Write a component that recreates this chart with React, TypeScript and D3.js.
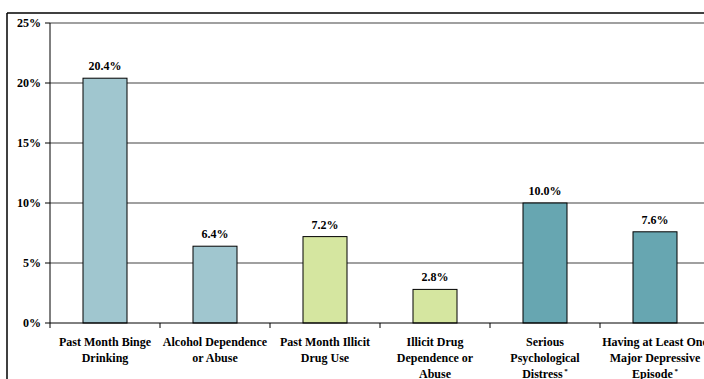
import React from "react";
import * as d3 from "d3";

const categories = [
  ["Past Month Binge", "Drinking"],
  ["Alcohol Dependence", "or Abuse"],
  ["Past Month Illicit", "Drug Use"],
  ["Illicit Drug", "Dependence or", "Abuse"],
  ["Serious", "Psychological", "Distress *"],
  ["Having at Least One", "Major Depressive", "Episode *"],
];
const values = [20.4, 6.4, 7.2, 2.8, 10.0, 7.6];
const colors = ["#A0C6CF", "#A0C6CF", "#D5E6A0", "#D5E6A0", "#67A6B1", "#67A6B1"];
const yTicks = [0, 5, 10, 15, 20, 25];

export default function App() {
  const W = 704, H = 379;
  const left = 50, right = 710, top = 23, bottom = 323;
  const x = d3.scaleBand<number>().domain(d3.range(categories.length)).range([left, right]).paddingInner(0.6).paddingOuter(0.3);
  const y = d3.scaleLinear().domain([0, 25]).range([bottom, top]);
  const step = x.step();
  const font = "'Liberation Serif', 'Times New Roman', serif";
  return (
    <svg width={W} height={H} style={{ position: "absolute", left: 0, top: 0, background: "#fff" }} fontFamily={font}>
      <line x1={7} x2={W} y1={13} y2={13} stroke="#000" strokeWidth={1.5} />
      <line x1={7} x2={7} y1={13} y2={H} stroke="#000" strokeWidth={1.5} />
      {yTicks.map((t) => (
        <g key={t}>
          {t > 0 && <line x1={left} x2={W} y1={y(t)} y2={y(t)} stroke="#808080" strokeWidth={1.5} />}
          <line x1={left - 5} x2={left} y1={y(t)} y2={y(t)} stroke="#000" strokeWidth={1} />
          <text x={41} y={y(t)} dy="0.35em" textAnchor="end" fontSize={12} fontWeight="bold">{t}%</text>
        </g>
      ))}
      {values.map((v, i) => (
        <g key={i}>
          <rect x={x(i)} y={y(v)} width={x.bandwidth()} height={bottom - y(v)} fill={colors[i]} stroke="#000" strokeWidth={1} />
          <text x={(x(i) as number) + x.bandwidth() / 2} y={y(v) - 8} textAnchor="middle" fontSize={12} fontWeight="bold">{v.toFixed(1)}%</text>
        </g>
      ))}
      <line x1={left} x2={W} y1={bottom} y2={bottom} stroke="#000" strokeWidth={1} />
      <line x1={left} x2={left} y1={top} y2={bottom} stroke="#000" strokeWidth={1} />
      {d3.range(categories.length + 1).map((i) => (
        <line key={i} x1={left + i * step} x2={left + i * step} y1={bottom} y2={bottom + 5} stroke="#000" strokeWidth={1} />
      ))}
      {categories.map((lines, i) => (
        <text key={i} x={(x(i) as number) + x.bandwidth() / 2} textAnchor="middle" fontSize={12} fontWeight="bold">
          {lines.map((l, j) => {
            const star = l.endsWith(" *");
            return (
              <tspan key={j} x={(x(i) as number) + x.bandwidth() / 2} y={346 + j * 16}>
                {star ? l.slice(0, -2) : l}
                {star && <tspan fontSize={7} dy={-5}>{" *"}</tspan>}
              </tspan>
            );
          })}
        </text>
      ))}
    </svg>
  );
}
